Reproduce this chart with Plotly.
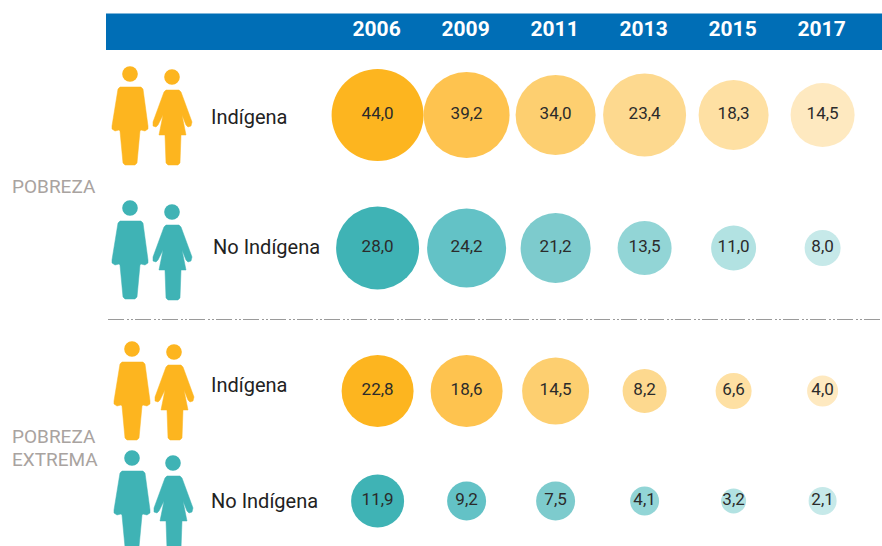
import plotly.graph_objects as go

W, H = 882, 546

# ---- data ----
years = ["2006", "2009", "2011", "2013", "2015", "2017"]
row_ids = ["Pobreza Indígena", "Pobreza No Indígena", "Extrema Indígena", "Extrema No Indígena"]
pob_ind = [44.0, 39.2, 34.0, 23.4, 18.3, 14.5]
pob_noind = [28.0, 24.2, 21.2, 13.5, 11.0, 8.0]
ext_ind = [22.8, 18.6, 14.5, 8.2, 6.6, 4.0]
ext_noind = [11.9, 9.2, 7.5, 4.1, 3.2, 2.1]
# bubble diameters as drawn in the original (not a function of the value)
diam_pob_ind = [92, 86, 80, 83, 70, 64]
diam_pob_noind = [83, 79, 70, 54, 45, 36]
diam_ext_ind = [72, 72, 67, 44, 36, 31]
diam_ext_noind = [53, 39, 39, 29, 25, 28]

orange_ramp = ["#FDB51F", "#FEC34F", "#FDCF70", "#FDD98F", "#FEE0A3", "#FEE9C0"]
teal_ramp = ["#3FB3B5", "#63C2C6", "#7DCBCD", "#92D5D6", "#B2E2E2", "#C6E9E9"]
ORANGE, TEAL = "#FDB51F", "#3FB3B5"

row_labels = ["Indígena", "No Indígena", "Indígena", "No Indígena"]

# ---- layout constants (pixels in the 882x546 frame) ----
row_center = [115, 248, 391, 501]
label_xy = [(210, 117), (212, 247), (210, 385), (210, 501)]
icon_off = [((0, 0), (0, 0)), ((0, 134), (0, 135)), ((2, 275), (2, 275)), ((2, 384), (1, 386))]
icon_col = [ORANGE, TEAL, ORANGE, TEAL]
X0, DX = 377.6, 89.0


def px(x):
    return x / W


def py(y):
    return 1 - y / H


def to_path(points):
    return "M " + " L ".join(f"{px(x):.5f},{py(y):.5f}" for x, y in points) + " Z"


def circle(cx, cy, r, col):
    return dict(type="circle", xref="paper", yref="paper", x0=px(cx - r), x1=px(cx + r),
                y0=py(cy + r), y1=py(cy - r), fillcolor=col, line=dict(width=0), layer="below")


MAN = [(118, 89), (120, 87), (141, 87), (143, 89), (148, 126), (148, 129), (145, 131), (141, 130),
       (140, 131), (137, 163), (135, 165), (125, 165), (123, 163), (120, 131), (119, 130),
       (115, 131), (112, 129), (112, 126)]
WOMAN = [(164, 92), (166, 90), (179, 90), (181, 92), (192, 122), (191, 126), (188, 127), (186, 125),
         (182, 115), (186, 135), (181, 135), (180, 163), (178, 165), (168, 165), (166, 163),
         (165, 135), (159, 135), (163, 115), (158, 125), (156, 127), (153, 126), (153, 122)]

shapes = [
    dict(type="rect", xref="paper", yref="paper", x0=px(106), x1=1.0, y0=py(50), y1=py(13.5),
         fillcolor="#006EB6", line=dict(width=0), layer="below"),
    dict(type="line", xref="paper", yref="paper", x0=px(108), x1=1.0, y0=py(319.5), y1=py(319.5),
         line=dict(color="#9A9A9A", width=1.2, dash="16px,3px,2px,2px,2px,2px"), layer="below"),
]
for (m, w), col in zip(icon_off, icon_col):
    shapes.append(circle(130 + m[0], 74 + m[1], 7.8, col))
    shapes.append(circle(172 + w[0], 77 + w[1], 7.8, col))
    shapes.append(dict(type="path", xref="paper", yref="paper", layer="below", fillcolor=col,
                       line=dict(color=col, width=0.5),
                       path=to_path([(x + m[0], y + m[1]) for x, y in MAN])))
    shapes.append(dict(type="path", xref="paper", yref="paper", layer="below", fillcolor=col,
                       line=dict(color=col, width=0.5),
                       path=to_path([(x + w[0], y + w[1]) for x, y in WOMAN])))

fig = go.Figure()
series = [
    (pob_ind, diam_pob_ind, orange_ramp),
    (pob_noind, diam_pob_noind, teal_ramp),
    (ext_ind, diam_ext_ind, orange_ramp),
    (ext_noind, diam_ext_noind, teal_ramp),
]
for i, (vals, diam, ramp) in enumerate(series):
    fig.add_trace(go.Scatter(
        x=years, y=[row_ids[i]] * len(years), yaxis=f"y{i + 1}" if i else "y",
        mode="markers+text", cliponaxis=False, showlegend=False,
        marker=dict(size=diam, sizemode="diameter", color=ramp, line=dict(width=0), opacity=1),
        text=[f"{v:.1f}".replace(".", ",") for v in vals],
        textposition="middle center",
        textfont=dict(family="Roboto", size=17, color="#2B2B2B"),
    ))

annots = []
for (x, y), t in zip(label_xy, row_labels):
    annots.append(dict(x=px(x), y=py(y), xref="paper", yref="paper", text=t, showarrow=False,
                       xanchor="left", yanchor="middle", align="left", xshift=-1,
                       font=dict(family="Roboto", size=20, color="#222222")))
for y, t in [(186, "POBREZA"), (436, "POBREZA"), (459, "EXTREMA")]:
    annots.append(dict(x=px(11), y=py(y), xref="paper", yref="paper", text=t, showarrow=False,
                       xanchor="left", yanchor="middle", xshift=-1,
                       font=dict(family="Roboto", size=19, color="#A9A3A0")))

layout = dict(
    width=W, height=H, autosize=False, margin=dict(l=0, r=0, t=0, b=0),
    paper_bgcolor="white", plot_bgcolor="rgba(0,0,0,0)", shapes=shapes, annotations=annots,
    xaxis=dict(type="category", categoryorder="array", categoryarray=years,
               range=[-X0 / DX, (W - X0) / DX], domain=[0, 1], anchor="free", position=py(40),
               side="top", showgrid=False, zeroline=False, showline=False, ticks="",
               ticklabelshift=-1,
               tickfont=dict(family="Roboto", size=21, color="white", weight="bold")),
)
for i, c in enumerate(row_center):
    name = f"yaxis{i + 1}" if i else "yaxis"
    layout[name] = dict(type="category", domain=[py(c + 10), py(c - 10)], range=[-0.5, 0.5],
                        visible=False, anchor="x", fixedrange=True)
fig.update_layout(**layout)
fig.write_html("out.html", config=dict(displayModeBar=False),
               post_script="document.body.style.margin='0';")
